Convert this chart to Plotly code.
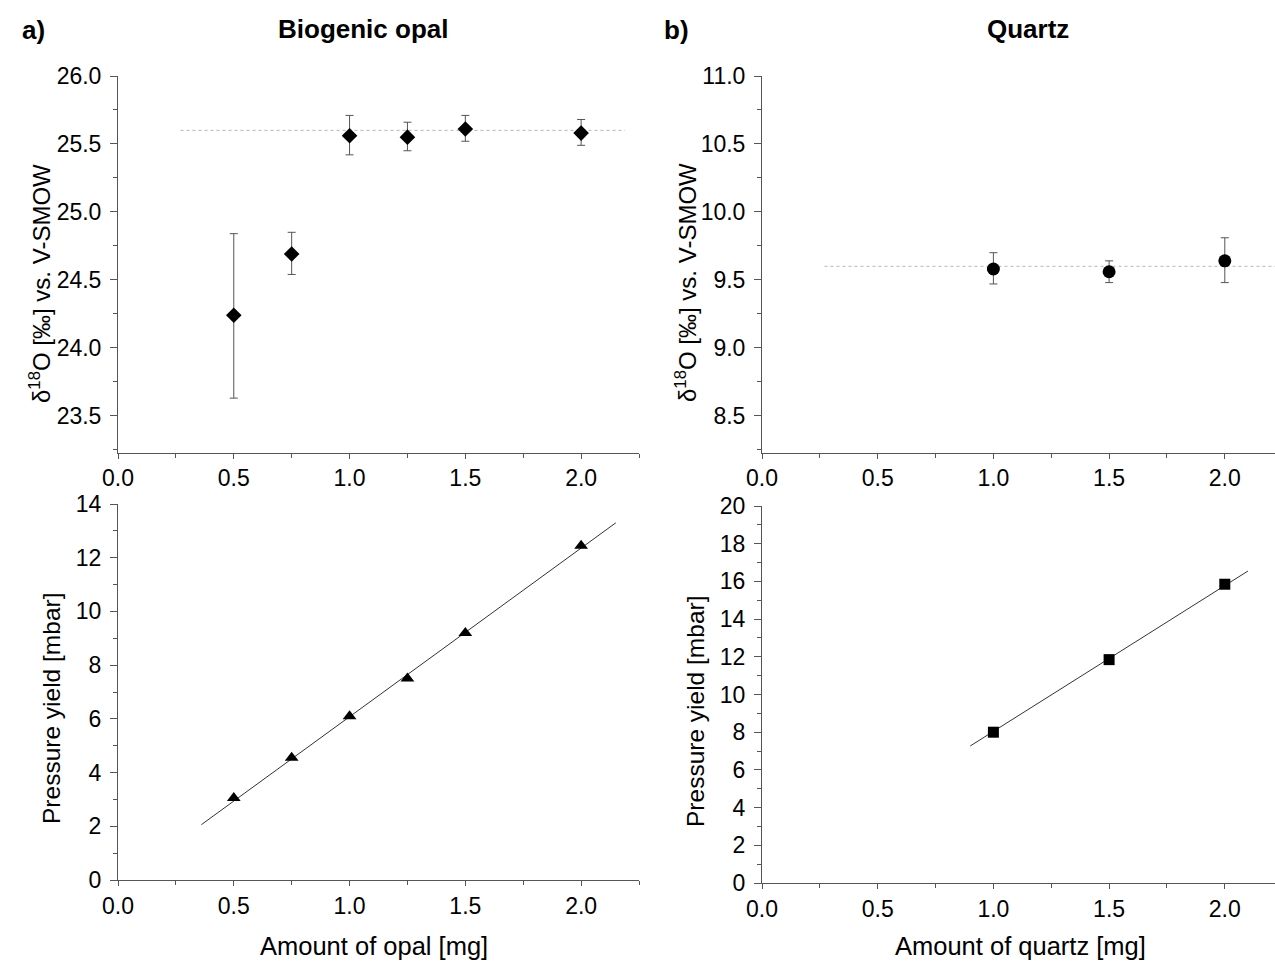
import plotly.graph_objects as go

# ---- data ----
opal_x = [0.5, 0.75, 1.0, 1.25, 1.5, 2.0]
opal_d18o = [24.24, 24.69, 25.56, 25.55, 25.61, 25.58]
opal_err_plus = [0.60, 0.16, 0.15, 0.11, 0.10, 0.10]
opal_err_minus = [0.61, 0.15, 0.14, 0.10, 0.09, 0.09]
opal_ref_x = [0.27, 2.19]
opal_ref_y = [25.6, 25.6]

quartz_x = [1.0, 1.5, 2.0]
quartz_d18o = [9.58, 9.56, 9.64]
quartz_err_plus = [0.12, 0.08, 0.17]
quartz_err_minus = [0.11, 0.08, 0.16]
quartz_ref_x = [0.27, 2.25]
quartz_ref_y = [9.6, 9.6]

opal_pressure = [3.05, 4.55, 6.1, 7.5, 9.2, 12.45]
opal_fit_x = [0.36, 2.15]
opal_fit_y = [2.06, 13.3]

quartz_pressure = [8.0, 11.85, 15.85]
quartz_fit_x = [0.9, 2.1]
quartz_fit_y = [7.27, 16.55]

x_ticks = [0.0, 0.5, 1.0, 1.5, 2.0]
x_ticklabels = ["0.0", "0.5", "1.0", "1.5", "2.0"]

W, H = 1275, 963
FONT = "Liberation Sans, Arial, sans-serif"
AXC = "#555555"
TICKSIZE = 23

fig = go.Figure()

err_style = dict(type="data", symmetric=False, color="#555555", thickness=1, width=4)

fig.add_trace(go.Scatter(x=opal_ref_x, y=opal_ref_y, mode="lines",
                         line=dict(color="#b5b5b5", width=1, dash="dot"),
                         xaxis="x", yaxis="y", showlegend=False))
fig.add_trace(go.Scatter(x=opal_x, y=opal_d18o, mode="markers",
                         marker=dict(symbol="diamond", size=12, color="black"),
                         error_y=dict(array=opal_err_plus, arrayminus=opal_err_minus, **err_style),
                         xaxis="x", yaxis="y", showlegend=False))

fig.add_trace(go.Scatter(x=quartz_ref_x, y=quartz_ref_y, mode="lines",
                         line=dict(color="#b5b5b5", width=1, dash="dot"),
                         xaxis="x2", yaxis="y2", showlegend=False))
fig.add_trace(go.Scatter(x=quartz_x, y=quartz_d18o, mode="markers",
                         marker=dict(symbol="circle", size=13, color="black"),
                         error_y=dict(array=quartz_err_plus, arrayminus=quartz_err_minus, **err_style),
                         xaxis="x2", yaxis="y2", showlegend=False))

fig.add_trace(go.Scatter(x=opal_fit_x, y=opal_fit_y, mode="lines",
                         line=dict(color="#333333", width=1),
                         xaxis="x3", yaxis="y3", showlegend=False))
fig.add_trace(go.Scatter(x=opal_x, y=opal_pressure, mode="markers",
                         marker=dict(symbol="triangle-up", size=12, color="black"),
                         xaxis="x3", yaxis="y3", showlegend=False))

fig.add_trace(go.Scatter(x=quartz_fit_x, y=quartz_fit_y, mode="lines",
                         line=dict(color="#333333", width=1),
                         xaxis="x4", yaxis="y4", showlegend=False))
fig.add_trace(go.Scatter(x=quartz_x, y=quartz_pressure, mode="markers",
                         marker=dict(symbol="square", size=11, color="black"),
                         xaxis="x4", yaxis="y4", showlegend=False))

def xax(dom, rng, anchor):
    return dict(domain=dom, range=rng, anchor=anchor, showline=True, linecolor=AXC, linewidth=1,
                showgrid=False, zeroline=False, tickvals=x_ticks, ticktext=x_ticklabels,
                ticks="outside", ticklen=5, tickcolor=AXC, automargin=False,
                minor=dict(ticks="outside", dtick=0.25, tick0=0, ticklen=4, tickcolor=AXC),
                tickfont=dict(family=FONT, size=TICKSIZE, color="black"))

def yax(dom, rng, anchor, dtick, minor, fmt):
    return dict(domain=dom, range=rng, anchor=anchor, showline=True, linecolor=AXC, linewidth=1,
                showgrid=False, zeroline=False, dtick=dtick, tick0=0, tickformat=fmt,
                ticks="outside", ticklen=7, tickcolor=AXC, automargin=False, ticklabelstandoff=4,
                minor=dict(ticks="outside", dtick=minor, tick0=0, ticklen=4, tickcolor=AXC),
                tickfont=dict(family=FONT, size=TICKSIZE, color="black"))

xl = [118 / W, 639 / W]
xr = [762 / W, 1.0]
yt = [1 - 452.5 / H, 1 - 76 / H]
ybl = [1 - 880 / H, 1 - 504 / H]
ybr = [1 - 883 / H, 1 - 506 / H]
PX_PER_UNIT = 231.4
xr_max = (W - 762) / PX_PER_UNIT

fig.update_layout(
    width=W, height=H, margin=dict(l=0, r=0, t=0, b=0, autoexpand=False),
    plot_bgcolor="white", paper_bgcolor="white",
    font=dict(family=FONT, color="black"),
    xaxis=xax(xl, [0, 2.25], "y"),
    yaxis=yax(yt, [23.23, 26.0], "x", 0.5, 0.25, ".1f"),
    xaxis2=xax(xr, [0, xr_max], "y2"),
    yaxis2=yax(yt, [8.23, 11.0], "x2", 0.5, 0.25, ".1f"),
    xaxis3=xax(xl, [0, 2.25], "y3"),
    yaxis3=yax(ybl, [0, 14], "x3", 2, 1, "d"),
    xaxis4=xax(xr, [0, xr_max], "y4"),
    yaxis4=yax(ybr, [0, 20], "x4", 2, 1, "d"),
)

def ann(text, x, y, size=20, bold=False, angle=0):
    fig.add_annotation(text=f"<b>{text}</b>" if bold else text, x=x / W, y=1 - y / H,
                       xref="paper", yref="paper", showarrow=False, textangle=angle,
                       font=dict(family=FONT, size=size, color="black"),
                       xanchor="center", yanchor="middle")

ann("a)", 33, 30, size=26, bold=True)
ann("Biogenic opal", 363, 29, size=26, bold=True)
ann("b)", 676, 30, size=26, bold=True)
ann("Quartz", 1028, 29, size=26, bold=True)
ann("δ<sup>18</sup>O [‰] vs. V-SMOW", 40, 284, size=24, angle=-90)
ann("δ<sup>18</sup>O [‰] vs. V-SMOW", 686, 283, size=24, angle=-90)
ann("Pressure yield [mbar]", 51, 709, size=24.5, angle=-90)
ann("Pressure yield [mbar]", 695, 711, size=24.5, angle=-90)
ann("Amount of opal [mg]", 374, 946, size=25.5)
ann("Amount of quartz [mg]", 1020, 946, size=25.5)

fig.write_html("out.html",
               config={"displayModeBar": False},
               post_script="document.body.style.margin='0';document.body.style.overflow='hidden';")
